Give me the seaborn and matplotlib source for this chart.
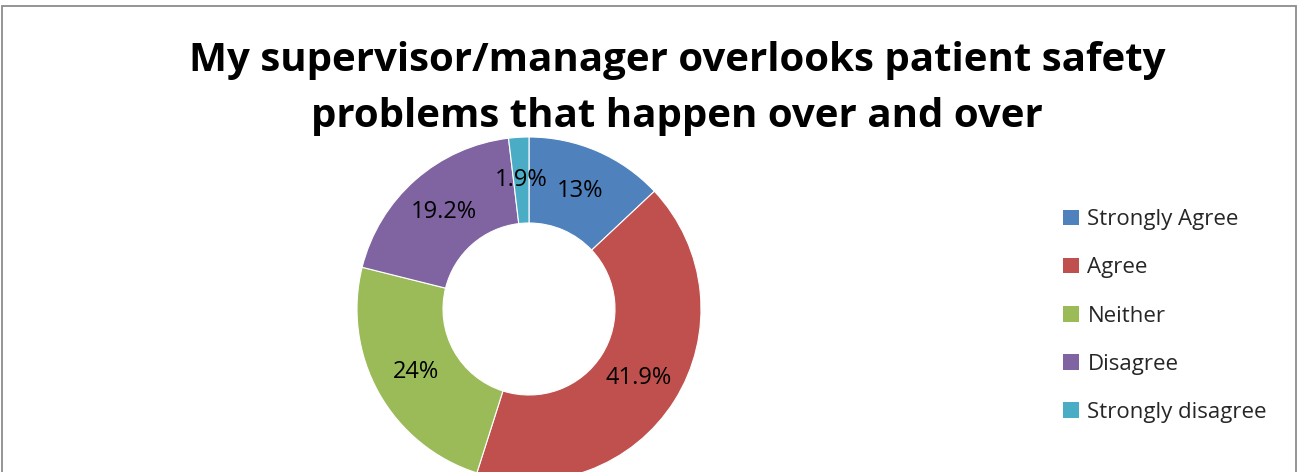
import matplotlib
matplotlib.use("Agg")
import matplotlib.pyplot as plt
from matplotlib.patches import Rectangle, Patch
import numpy as np
import seaborn as sns

# Survey responses
categories = ["Strongly Agree", "Agree", "Neither", "Disagree", "Strongly disagree"]
shares = [13, 41.9, 24, 19.2, 1.9]
colors = ["#4F81BD", "#C0504D", "#9BBB59", "#8064A2", "#4BACC6"]
title_lines = ["My supervisor/manager overlooks patient safety",
               "problems that happen over and over"]

sns.set_theme(style="white")
plt.rcParams["font.family"] = ["Open Sans", "DejaVu Sans"]
palette = sns.color_palette(colors)

W, H = 1299, 472
fig = plt.figure(figsize=(W / 100, H / 100), dpi=100)
fig.patch.set_facecolor("white")

# Chart frame
fig.patches.append(Rectangle((2 / W, -0.05), 1294 / W, (H - 6) / H + 0.05,
                             transform=fig.transFigure, fill=False,
                             edgecolor="#8c8c8c", linewidth=1.3))

# Donut axes: center (529, 309) px, outer radius 172 px
cx, cy, r = 529, H - 309, 172
ax = fig.add_axes([(cx - r) / W, (cy - r) / H, 2 * r / W, 2 * r / H])

wedges, _ = ax.pie(shares, colors=palette, startangle=90, counterclock=False,
                   radius=1.0, wedgeprops=dict(width=0.5, edgecolor="white", linewidth=0.8))
ax.set_xlim(-1, 1)
ax.set_ylim(-1, 1)
ax.set_aspect("equal")
ax.axis("off")


def fmt(v):
    return f"{v:g}%"


for v, w in zip(shares, wedges):
    mid = np.deg2rad((w.theta1 + w.theta2) / 2)
    rr = 0.75
    ax.text(rr * np.cos(mid), rr * np.sin(mid), fmt(v), ha="center", va="center",
            fontsize=17, color="black")

fig.text(677 / W, 1 - 61 / H, title_lines[0],
         ha="center", va="center", fontsize=29, fontweight="bold", color="black")
fig.text(677 / W, 1 - 116 / H, title_lines[1],
         ha="center", va="center", fontsize=29, fontweight="bold", color="black")

handles = [Patch(facecolor=c, edgecolor="none") for c in palette]
fig.legend(handles, categories, loc="center left", bbox_to_anchor=(1043 / W, 1 - 316 / H),
           frameon=False, fontsize=16, handlelength=0.7, handleheight=0.7,
           handletextpad=0.4, labelspacing=1.22)

fig.savefig("out.png", dpi=100, facecolor="white")
